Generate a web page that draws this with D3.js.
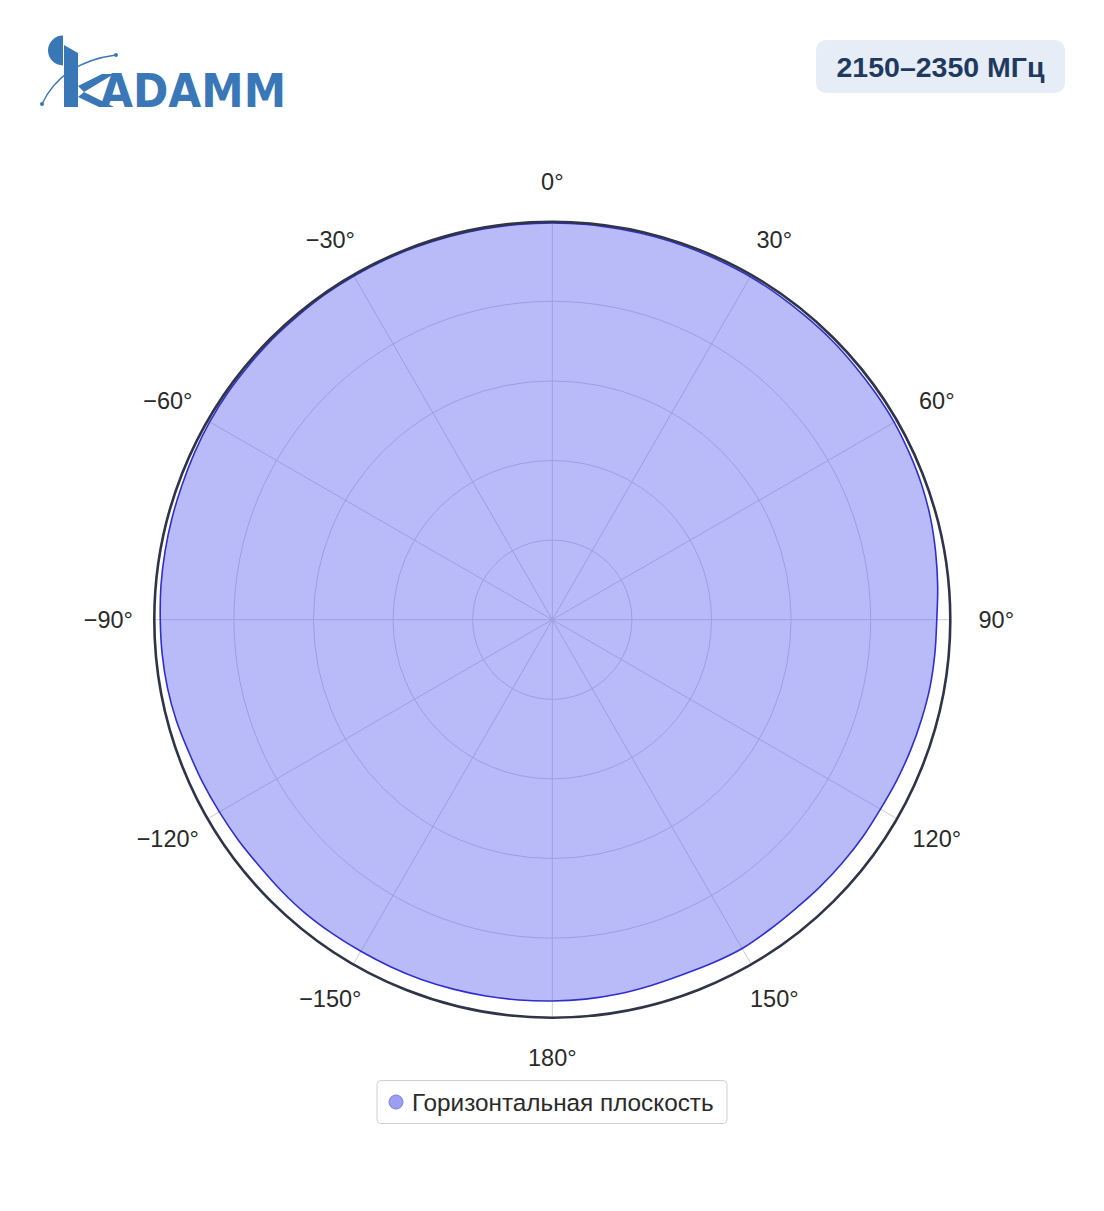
<!DOCTYPE html>
<html>
<head>
<meta charset="utf-8">
<script src="https://cdn.jsdelivr.net/npm/d3@7"></script>
<style>
  html, body { margin: 0; padding: 0; background: #ffffff; }
  svg { display: block; }
</style>
</head>
<body>
<svg id="chart" width="1104" height="1211"></svg>
<script>
// ---- data ----
const angles = [0,5,10,15,20,25,30,35,40,45,50,55,60,65,70,75,80,85,90,95,100,105,110,115,120,125,130,135,140,145,150,155,160,165,170,175,
                180,185,190,195,200,205,210,215,220,225,230,235,240,245,250,255,260,265,270,275,280,285,290,295,300,305,310,315,320,325,330,335,340,345,350,355];
const gain = [0.997,0.997,0.996,0.996,0.996,0.995,0.995,0.994,0.993,0.993,0.992,0.992,0.992,0.990,0.988,0.984,0.978,0.972,0.966,0.965,0.964,0.961,0.958,0.955,0.952,0.952,0.951,0.950,0.949,0.951,0.954,0.952,0.950,0.952,0.955,0.957,
              0.958,0.959,0.960,0.961,0.962,0.962,0.962,0.963,0.964,0.963,0.962,0.964,0.966,0.969,0.972,0.978,0.982,0.984,0.985,0.987,0.988,0.989,0.990,0.992,0.994,0.995,0.995,0.996,0.996,0.997,0.997,0.997,0.997,0.997,0.997,0.997];
const angularTicks = [0,30,60,90,120,150,180,-150,-120,-90,-60,-30];
const angularTickLabels = ["0°","30°","60°","90°","120°","150°","180°","−150°","−120°","−90°","−60°","−30°"];
const radialTicks = [0.2,0.4,0.6,0.8];
const seriesName = "Горизонтальная плоскость";
const bandTitle = "2150–2350 МГц";
const logoText = "ADAMM";

// ---- layout ----
const svg = d3.select("#chart");
const cx = 552.3, cy = 619.7, R = 398;
const rScale = d3.scaleLinear().domain([0, 1]).range([0, R]);
const aScale = d3.scaleLinear().domain([0, 360]).range([0, 2 * Math.PI]);
const font = "'Liberation Sans', Arial, sans-serif";

const g = svg.append("g").attr("transform", `translate(${cx},${cy})`);

// grid circles
g.selectAll("circle.grid").data(radialTicks).enter().append("circle")
  .attr("r", d => rScale(d)).attr("fill", "none")
  .attr("stroke", "#c9ccd8").attr("stroke-width", 1);

// spokes
g.selectAll("line.spoke").data(angularTicks).enter().append("line")
  .attr("x1", 0).attr("y1", 0)
  .attr("x2", d => rScale(1) * Math.sin(aScale(d)))
  .attr("y2", d => -rScale(1) * Math.cos(aScale(d)))
  .attr("stroke", "#c9ccd8").attr("stroke-width", 1);

// data
const pts = angles.map((a, i) => ({a, r: gain[i]}));
const line = d3.lineRadial()
  .angle(d => aScale(d.a))
  .radius(d => rScale(d.r))
  .curve(d3.curveCatmullRomClosed);

g.append("path").datum(pts)
  .attr("d", line)
  .attr("fill", "rgba(99,104,240,0.45)")
  .attr("stroke", "#2f2fcc")
  .attr("stroke-width", 1.6)
  .attr("stroke-linejoin", "round");

// outer ring
g.append("circle").attr("r", rScale(1)).attr("fill", "none")
  .attr("stroke", "#2f3447").attr("stroke-width", 2.6);

// angular tick labels
g.selectAll("text.tick").data(angularTicks).enter().append("text")
  .attr("x", d => 444 * Math.sin(aScale(d)))
  .attr("y", d => -438 * Math.cos(aScale(d)))
  .attr("text-anchor", "middle")
  .attr("dominant-baseline", "central")
  .attr("font-family", font)
  .attr("font-size", 23.5)
  .attr("fill", "#2a2a2a")
  .text((d, i) => angularTickLabels[i]);

// ---- title box ----
const tb = svg.append("g");
tb.append("rect").attr("x", 816).attr("y", 40).attr("width", 249).attr("height", 53)
  .attr("rx", 10).attr("fill", "#e6edf6");
tb.append("text").attr("x", 940.5).attr("y", 67)
  .attr("text-anchor", "middle").attr("dominant-baseline", "central")
  .attr("font-family", font)
  .attr("font-weight", "bold").attr("font-size", 28.5)
  .attr("fill", "#1f3a5f").text(bandTitle);

// ---- legend ----
const lg = svg.append("g");
lg.append("rect").attr("x", 377).attr("y", 1080.5).attr("width", 350).attr("height", 43)
  .attr("rx", 4).attr("fill", "#fff").attr("stroke", "#cfcfcf").attr("stroke-width", 1);
lg.append("circle").attr("cx", 396).attr("cy", 1102).attr("r", 7)
  .attr("fill", "#9c9ef2").attr("stroke", "#7a7de6").attr("stroke-width", 1);
lg.append("text").attr("x", 412).attr("y", 1102)
  .attr("dominant-baseline", "central")
  .attr("font-family", font)
  .attr("font-size", 24.3).attr("fill", "#2a2a2a").text(seriesName);

// ---- logo ----
const blue = "#3a77b7";
const logo = svg.append("g");
// half disc
logo.append("path").attr("d", "M63,35.5 A15,15 0 0 0 63,65.5 Z").attr("fill", blue);
// K stem with slanted top
logo.append("path").attr("d", "M64,45 L78,53 L78,107 L64,107 Z").attr("fill", blue);
// K arms
logo.append("path").attr("d", "M78,86 L102,74 L114,74 L84,92 Z").attr("fill", blue);
logo.append("path").attr("d", "M84,92 L114,107 L99,107 L78,97 Z").attr("fill", blue);
// arc with dots
logo.append("path").attr("d", "M42,104 Q62,62 116,55").attr("fill", "none")
  .attr("stroke", blue).attr("stroke-width", 1.3);
logo.append("circle").attr("cx", 42).attr("cy", 104).attr("r", 2).attr("fill", blue);
logo.append("circle").attr("cx", 116).attr("cy", 55).attr("r", 2).attr("fill", blue);
// letters
logo.append("text").attr("x", 100).attr("y", 107)
  .attr("font-family", "'DejaVu Sans', sans-serif").attr("font-weight", "bold")
  .attr("font-size", 46).attr("fill", blue)
  .attr("textLength", 186).attr("lengthAdjust", "spacingAndGlyphs")
  .text(logoText);
</script>
</body>
</html>
